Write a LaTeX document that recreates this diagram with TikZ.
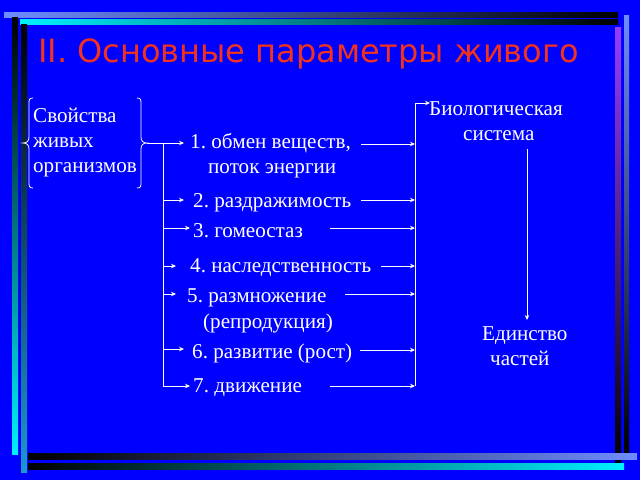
\documentclass[tikz,border=0pt]{standalone}
\usepackage{fontspec}
\setmainfont{Liberation Serif}
\newfontfamily\titlefont{DejaVu Sans}
\usetikzlibrary{arrows.meta}
\definecolor{bg}{RGB}{0,0,255}
\definecolor{titlered}{RGB}{240,50,30}
\definecolor{lblue}{RGB}{110,140,255}
\definecolor{cyanb}{RGB}{0,240,255}
\definecolor{steel}{RGB}{30,150,210}
\definecolor{purp}{RGB}{150,60,255}
\frenchspacing
\begin{document}
\begin{tikzpicture}[x=1pt,y=-1pt,
  txt/.style={anchor=base west, inner sep=0pt, text=white, font=\fontsize{21.1}{25}\selectfont},
  conn/.style={draw=white, line width=0.9pt},
  arr/.style={conn, -{Stealth[length=5pt,width=4.5pt]}},
  bracestyle/.style={draw=white, line width=0.8pt}]
\useasboundingbox (0,0) rectangle (640,480);
\fill[bg] (0,0) rectangle (640,480);
% decorative frame bars
\shade[left color=lblue, right color=black] (4,12) rectangle (618,17);
\shade[left color=cyanb, right color=black] (20,19) rectangle (618,24);
\shade[top color=black, bottom color=cyanb] (12,17) rectangle (18,454);
\shade[top color=black, bottom color=steel] (21,24) rectangle (27,472);
\shade[top color=purp, bottom color=black] (615,27) rectangle (621,463);
\shade[top color=lblue, bottom color=black] (624,15) rectangle (629,453);
\shade[left color=black, right color=lblue] (28,453) rectangle (637,459);
\shade[left color=black, right color=cyanb] (28,463) rectangle (624,469);
% title
\node[anchor=base west, inner sep=0pt, text=titlered, font=\titlefont\fontsize{32}{32}\selectfont] (title) at (38,62) {II. Основные параметры живого};
% left block
\node[txt] (s1) at (33,122) {Свойства};
\node[txt] (s2) at (33,147) {живых};
\node[txt] (s3) at (33,172) {организмов};
\draw[bracestyle] (33,98) .. controls (29,98) and (29,100) .. (29,104) -- (29,137)
  .. controls (29,141) and (27,143) .. (23,143) .. controls (27,143) and (29,145) .. (29,149)
  -- (29,182) .. controls (29,186) and (29,188) .. (33,188);
\draw[bracestyle] (137,98) .. controls (141,98) and (141,100) .. (141,104) -- (141,137)
  .. controls (141,141) and (143,143) .. (147,143) .. controls (143,143) and (141,145) .. (141,149)
  -- (141,182) .. controls (141,186) and (141,188) .. (137,188);
% items
\node[txt] (i1a) at (190,148) {1. обмен веществ,};
\node[txt] (i1b) at (208,173) {поток энергии};
\node[txt] (i2) at (193,207) {2. раздражимость};
\node[txt] (i3) at (193,237) {3. гомеостаз};
\node[txt] (i4) at (190,272) {4. наследственность};
\node[txt] (i5a) at (187,302) {5. размножение};
\node[txt] (i5b) at (203,328) {(репродукция)};
\node[txt] (i6) at (192,358) {6. развитие (рост)};
\node[txt] (i7) at (193,392) {7. движение};
% right block
\node[txt] (b1) at (429,115) {Биологическая};
\node[txt] (b2) at (463,140) {система};
\node[txt] (u1) at (482,340) {Единство};
\node[txt] (u2) at (490,365) {частей};
% coordinates
\coordinate (bt) at (147,143);
\coordinate (L1) at (163,143); \coordinate (T1) at (184,143);
\coordinate (L2) at (163,200); \coordinate (T2) at (184,200);
\coordinate (L3) at (163,228); \coordinate (T3) at (190,228);
\coordinate (L4) at (163,266); \coordinate (T4) at (176,266);
\coordinate (L5) at (163,294); \coordinate (T5) at (176,294);
\coordinate (L6) at (163,349); \coordinate (T6) at (184,349);
\coordinate (L7) at (163,386); \coordinate (T7) at (190,386);
\coordinate (R1) at (361,144); \coordinate (E1) at (415,144);
\coordinate (R2) at (361,200); \coordinate (E2) at (415,200);
\coordinate (R3) at (330,228); \coordinate (E3) at (415,228);
\coordinate (R4) at (381,266); \coordinate (E4) at (415,266);
\coordinate (R5) at (345,294); \coordinate (E5) at (415,294);
\coordinate (R6) at (360,350); \coordinate (E6) at (415,350);
\coordinate (R7) at (330,386); \coordinate (E7) at (415,386);
\coordinate (Vt) at (415,103); \coordinate (Bt) at (430,103);
\coordinate (D1) at (527,149); \coordinate (D2) at (527,320);
% connectors
\draw[arr] (bt) -- (T1);
\draw[conn] (L1) -- (L7);
\draw[arr] (L2) -- (T2);
\draw[arr] (L3) -- (T3);
\draw[arr] (L4) -- (T4);
\draw[arr] (L5) -- (T5);
\draw[arr] (L6) -- (T6);
\draw[arr] (L7) -- (T7);
\draw[arr] (R1) -- (E1);
\draw[arr] (R2) -- (E2);
\draw[arr] (R3) -- (E3);
\draw[arr] (R4) -- (E4);
\draw[arr] (R5) -- (E5);
\draw[arr] (R6) -- (E6);
\draw[arr] (R7) -- (E7);
\draw[arr] (E7) -- (Vt) -- (Bt);
\draw[arr] (D1) -- (D2);
\end{tikzpicture}
\end{document}
